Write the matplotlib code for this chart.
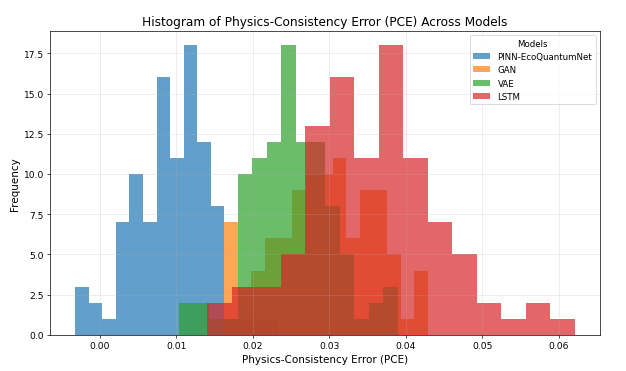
import numpy as np
import matplotlib
matplotlib.use("Agg")
import matplotlib.pyplot as plt

models = ["PINN-EcoQuantumNet", "GAN", "VAE", "LSTM"]
colors = ["tab:blue", "tab:orange", "tab:green", "tab:red"]

# histogram ranges (min, max of each model's PCE values), 15 bins each
pinn_range = (-0.003233, 0.023403)
gan_range = (0.016258, 0.042881)
vae_range = (0.010417, 0.038970)
lstm_range = (0.014016, 0.062125)

pinn_counts = [3, 2, 1, 7, 10, 7, 16, 11, 18, 12, 8, 1, 1, 1, 1]
gan_counts = [7, 3, 4, 6, 6, 9, 10, 10, 11, 6, 9, 9, 5, 1, 4]
vae_counts = [2, 2, 1, 1, 10, 11, 12, 18, 12, 12, 8, 5, 1, 2, 3]
lstm_counts = [2, 3, 3, 5, 13, 16, 11, 18, 11, 7, 5, 2, 1, 2, 1]

n_bins = 15

fig, ax = plt.subplots(figsize=(10, 5.942), dpi=62.6)

for name, col, rng, cnt in zip(models, colors,
                               [pinn_range, gan_range, vae_range, lstm_range],
                               [pinn_counts, gan_counts, vae_counts, lstm_counts]):
    edges = np.linspace(rng[0], rng[1], n_bins + 1)
    centers = (edges[:-1] + edges[1:]) / 2
    ax.hist(centers, bins=edges, weights=cnt, color=col, alpha=0.7, label=name)

ax.set_title("Histogram of Physics-Consistency Error (PCE) Across Models", fontsize=14)
ax.set_xlabel("Physics-Consistency Error (PCE)", fontsize=12)
ax.set_ylabel("Frequency", fontsize=12)
ax.tick_params(labelsize=10.5)
ax.grid(True, alpha=0.3)
ax.legend(title="Models", loc="upper right", fontsize=10, title_fontsize=10)
fig.subplots_adjust(left=0.0799, right=0.9585, top=0.9148, bottom=0.0968)
fig.savefig("out.png", dpi=62.6)
